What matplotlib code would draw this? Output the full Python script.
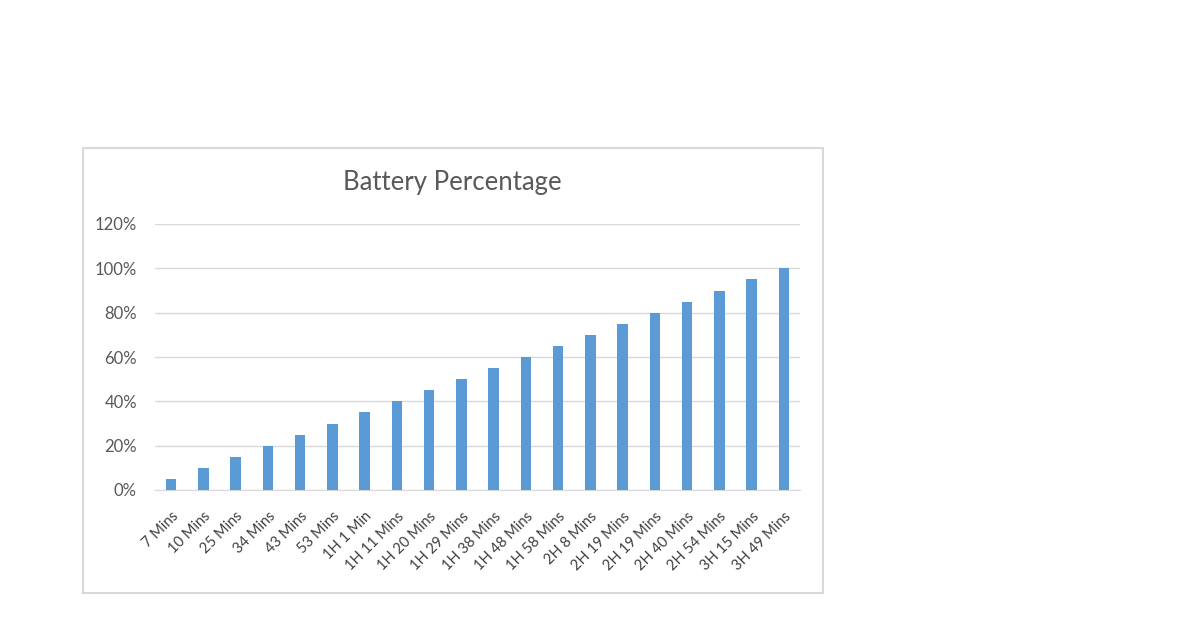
import matplotlib
matplotlib.use("Agg")
import matplotlib.pyplot as plt
from matplotlib.patches import Rectangle
from matplotlib.ticker import FuncFormatter

categories = ["7 Mins", "10 Mins", "25 Mins", "34 Mins", "43 Mins", "53 Mins",
              "1H 1 Min", "1H 11 Mins", "1H 20 Mins", "1H 29 Mins", "1H 38 Mins",
              "1H 48 Mins", "1H 58 Mins", "2H 8 Mins", "2H 19 Mins", "2H 19 Mins",
              "2H 40 Mins", "2H 54 Mins", "3H 15 Mins", "3H 49 Mins"]
values = [5, 10, 15, 20, 25, 30, 35, 40, 45, 50, 55, 60, 65, 70, 75, 80, 85, 90, 95, 100]
yticks = [0, 20, 40, 60, 80, 100, 120]

plt.rcParams['font.family'] = ['Lato', 'DejaVu Sans']
W, H = 1200, 623
fig = plt.figure(figsize=(W / 100, H / 100), dpi=100)
fig.patch.set_facecolor("white")

# chart border
fig.patches.append(Rectangle((83 / W, 1 - 593 / H), (823 - 83) / W, (593 - 148) / H,
                             transform=fig.transFigure, fill=False,
                             edgecolor="#D9D9D9", linewidth=1.5))

ax = fig.add_axes([155 / W, 1 - 490 / H, (800 - 155) / W, (490 - 224) / H])
x = list(range(len(categories)))
ax.bar(x, values, width=0.33, color="#5B9BD5", zorder=3)
ax.set_xlim(-0.5, len(categories) - 0.5)
ax.set_ylim(0, 120)
ax.set_yticks(yticks)
ax.yaxis.set_major_formatter(FuncFormatter(lambda v, p: f"{int(v)}%"))
ax.grid(axis="y", color="#D9D9D9", linewidth=1, zorder=0)
for s in ["top", "right", "left"]:
    ax.spines[s].set_visible(False)
ax.spines["bottom"].set_color("#D9D9D9")
ax.tick_params(axis="both", length=0, labelcolor="#595959")
ax.tick_params(axis="y", pad=13, labelsize=12)
ax.set_xticks(x)
ax.set_xticklabels(categories, rotation=45, ha="right", rotation_mode="anchor",
                   fontsize=10.5, color="#404040")
ax.tick_params(axis="x", pad=14)

fig.text((341 + 563) / 2 / W, 1 - 183 / H, "Battery Percentage", ha="center",
         va="center", fontsize=18.5, color="#595959")

fig.savefig("out.png", dpi=100, facecolor="white")
